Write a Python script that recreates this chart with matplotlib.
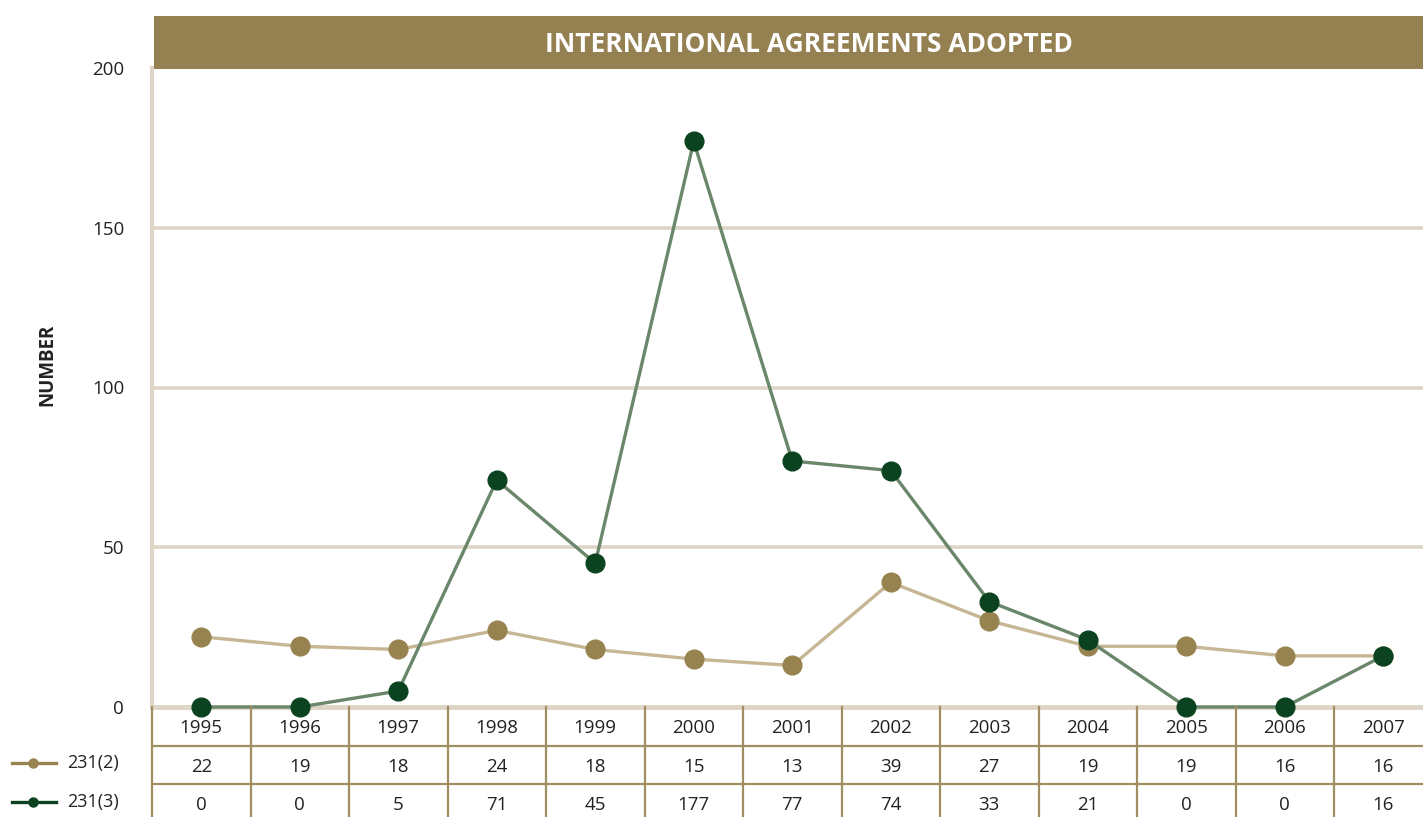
import matplotlib
matplotlib.use("Agg")
import matplotlib.pyplot as plt
from matplotlib.lines import Line2D

years = ["1995", "1996", "1997", "1998", "1999", "2000", "2001",
         "2002", "2003", "2004", "2005", "2006", "2007"]
s2_label = "231(2)"
s3_label = "231(3)"
s2_values = [22, 19, 18, 24, 18, 15, 13, 39, 27, 19, 19, 16, 16]
s3_values = [0, 0, 5, 71, 45, 177, 77, 74, 33, 21, 0, 0, 16]
y_ticks = [0, 50, 100, 150, 200]
title = "INTERNATIONAL AGREEMENTS ADOPTED"
ylabel = "NUMBER"

W, H = 1423, 817
plt.rcParams['font.family'] = ['Open Sans', 'DejaVu Sans']
fig = plt.figure(figsize=(W / 100, H / 100), dpi=100)

BAND = "#948050"
TAN_M = "#96834f"
TAN_L = "#c6b693"
GRN_M = "#0b4320"
GRN_L = "#6b876b"
GRID = "#ddd5c6"
TBL = "#a08d60"
TXT = "#222222"

left_px, right_px = 152, 1423
zero_px, top_px = 707, 68
colw = 98.5
xmin = -0.5
xmax = xmin + (right_px - left_px) / colw

ax = fig.add_axes([left_px / W, (H - zero_px) / H,
                   (right_px - left_px) / W, (zero_px - top_px) / H])
ax.set_xlim(xmin, xmax)
ax.set_ylim(0, 200)
for s in ["top", "right", "bottom"]:
    ax.spines[s].set_visible(False)
ax.spines["left"].set_color(GRID)
ax.spines["left"].set_linewidth(3)
ax.set_xticks([])
ax.set_yticks(y_ticks)
ax.set_yticklabels([str(v) for v in y_ticks], fontsize=13.5, color=TXT)
ax.tick_params(axis="y", length=0, pad=20)
for v in y_ticks[1:-1]:
    ax.axhline(v, color=GRID, lw=2.6, zorder=0)
ax.axhline(0, color=GRID, lw=3.5, zorder=1, clip_on=False)

x = list(range(len(years)))
ax.plot(x, s2_values, color=TAN_L, lw=2.4, zorder=2, clip_on=False)
ax.plot(x, s2_values, 'o', color=TAN_M, ms=13.5, zorder=3, clip_on=False)
ax.plot(x, s3_values, color=GRN_L, lw=2.4, zorder=4, clip_on=False)
ax.plot(x, s3_values, 'o', color=GRN_M, ms=13.5, zorder=5, clip_on=False)

# Title band
band = fig.add_axes([154 / W, (H - 69) / H, (W - 154) / W, 53 / H])
band.set_facecolor(BAND)
band.set_xticks([]); band.set_yticks([])
for s in band.spines.values():
    s.set_visible(False)
fig.text(809 / W, (H - 44) / H, title, color="white", fontsize=19,
         fontweight="bold", ha="center", va="center")

fig.text(47 / W, (H - 365) / H, ylabel, rotation=90, fontsize=13.5,
         fontweight="bold", ha="center", va="center", color=TXT)

# Table
tax = fig.add_axes([left_px / W, 0, (right_px - left_px) / W, (H - zero_px) / H])
tax.set_xlim(xmin, xmax)
tax.set_ylim(H - zero_px, 0)
tax.axis("off")
for i in range(len(years) + 1):
    tax.plot([i - 0.5, i - 0.5], [0, H - zero_px], color=TBL, lw=1.6,
             clip_on=False)
for yy in [39, 77]:
    tax.plot([xmin, xmax], [yy, yy], color=TBL, lw=1.6)
for i, yr in enumerate(years):
    tax.text(i, 21, yr, ha="center", va="center", fontsize=13.5, color=TXT)
    tax.text(i, 60, str(s2_values[i]), ha="center", va="center",
             fontsize=13.5, color=TXT)
    tax.text(i, 98, str(s3_values[i]), ha="center", va="center",
             fontsize=13.5, color=TXT)

# Legend
for ypx, lc, mc, lab in [(763, TAN_M, TAN_M, s2_label),
                         (802, GRN_M, GRN_M, s3_label)]:
    yf = (H - ypx) / H
    fig.add_artist(Line2D([12 / W, 56 / W], [yf, yf], color=lc, lw=2.4))
    fig.add_artist(Line2D([33 / W], [yf], marker='o', color=mc, ms=6.5))
    fig.text(67 / W, yf, lab, fontsize=13, ha="left", va="center", color=TXT)

fig.savefig("out.png", dpi=100)
